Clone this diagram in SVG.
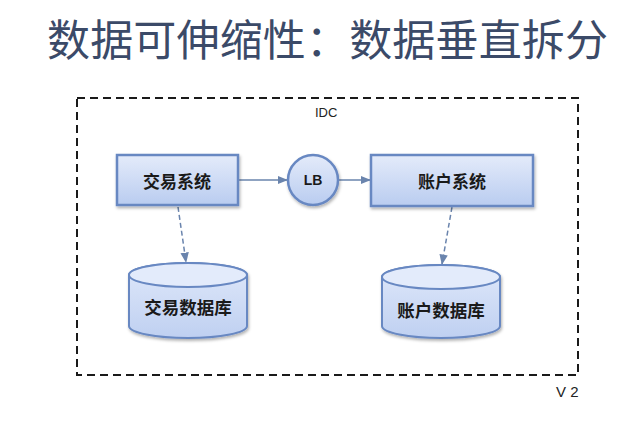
<svg xmlns="http://www.w3.org/2000/svg" width="640" height="433" viewBox="0 0 640 433">
<defs>
<linearGradient id="boxg" x1="0" y1="0" x2="0" y2="1">
<stop offset="0" stop-color="#e4ebfa"/>
<stop offset="1" stop-color="#b9ccf0"/>
</linearGradient>
<linearGradient id="cylg" x1="0" y1="0" x2="0" y2="1">
<stop offset="0" stop-color="#dfe8fa"/>
<stop offset="1" stop-color="#bfd0f1"/>
</linearGradient>
<filter id="sh" x="-20%" y="-20%" width="140%" height="150%">
<feDropShadow dx="1" dy="2" stdDeviation="1.5" flood-color="#000" flood-opacity="0.3"/>
</filter>
<marker id="ah" viewBox="0 0 10 10" refX="9" refY="5" markerWidth="7" markerHeight="7" orient="auto">
<path d="M0,1 L10,5 L0,9 z" fill="#6a84ad"/>
</marker>
</defs>
<style>
.title{font-family:"Noto Sans CJK SC","Noto Sans",sans-serif;font-size:43px;fill:#3b4a68}
.lbl{font-family:"Noto Sans CJK SC","Noto Sans",sans-serif;font-size:17px;font-weight:bold;fill:#1a1a1a;text-anchor:middle;dominant-baseline:central}
.small{font-family:"Liberation Sans",Arial,sans-serif;fill:#222}
.box{fill:url(#boxg);stroke:#6888c2;stroke-width:2.5;filter:url(#sh)}
.cyl{fill:url(#cylg);stroke:#6888c2;stroke-width:2;filter:url(#sh)}
.conn{stroke:#6a84ad;stroke-width:1.5;fill:none}
.dash{stroke-dasharray:5,3}
</style>
<rect width="640" height="433" fill="#ffffff"/>
<text class="title" x="47" y="56" textLength="561" lengthAdjust="spacing">数据可伸缩性：数据垂直拆分</text>
<g id="idc">
<rect x="77" y="98" width="501" height="277" fill="none" stroke="#1a1a1a" stroke-width="2" stroke-dasharray="8,5"/>
<text class="small" x="315" y="117" font-size="13">IDC</text>
<text class="small" x="556" y="397" font-size="15">V 2</text>
</g>
<g id="connectors">
<line class="conn" x1="238" y1="180" x2="287" y2="180" marker-end="url(#ah)"/>
<line class="conn" x1="338" y1="180" x2="370" y2="180" marker-end="url(#ah)"/>
<line class="conn dash" x1="178" y1="207" x2="186" y2="262" marker-end="url(#ah)"/>
<line class="conn dash" x1="452" y1="207" x2="442" y2="264" marker-end="url(#ah)"/>
</g>
<g id="trade-sys">
<rect class="box" x="117" y="155" width="121" height="50"/>
<text class="lbl" x="177" y="180">交易系统</text>
</g>
<g id="lb">
<circle class="box" cx="313" cy="180" r="25"/>
<text class="lbl" x="313" y="180" style="font-family:'Liberation Sans',Arial,sans-serif;font-size:14px">LB</text>
</g>
<g id="account-sys">
<rect class="box" x="371" y="155" width="162" height="51"/>
<text class="lbl" x="452" y="180">账户系统</text>
</g>
<g id="trade-db">
<path class="cyl" d="M129,275 L129,326 A59,12 0 0 0 247,326 L247,275 A59,12 0 0 0 129,275 Z"/>
<ellipse cx="188" cy="275" rx="59" ry="12" fill="#e3ebfb" stroke="#6888c2" stroke-width="2"/>
<text class="lbl" x="188" y="306" style="font-size:17.5px">交易数据库</text>
</g>
<g id="account-db">
<path class="cyl" d="M382,277 L382,326 A59,12 0 0 0 500,326 L500,277 A59,12 0 0 0 382,277 Z"/>
<ellipse cx="441" cy="277" rx="59" ry="12" fill="#e3ebfb" stroke="#6888c2" stroke-width="2"/>
<text class="lbl" x="441" y="309" style="font-size:17.5px">账户数据库</text>
</g>
</svg>
